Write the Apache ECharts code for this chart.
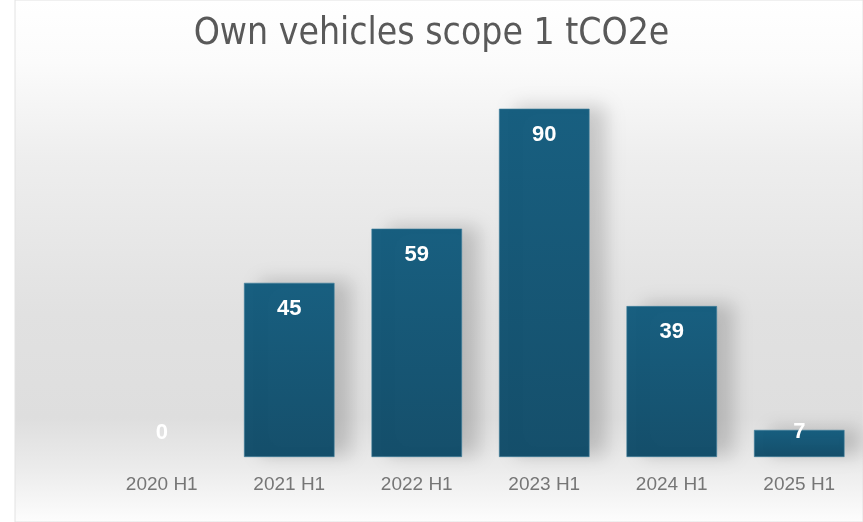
<!DOCTYPE html>
<html>
<head>
<meta charset="utf-8">
<script src="https://cdn.jsdelivr.net/npm/echarts@6/dist/echarts.min.js"></script>
<style>
  html, body { margin: 0; padding: 0; background: #fff; }
  #main { width: 863px; height: 522px; }
</style>
</head>
<body>
<div id="main"></div>
<script>
var chartDom = document.getElementById('main');
var myChart = echarts.init(chartDom);

const chartTitle = 'Own vehicles scope 1 tCO2e';
const periods = ['2020 H1', '2021 H1', '2022 H1', '2023 H1', '2024 H1', '2025 H1'];
const emissions = [0, 45, 59, 90, 39, 7];

// small bars: label sits above the baseline like in the original
function itemFor(value) {
  if (value === 0) {
    return { value: value, label: { position: 'top', distance: 13 }, itemStyle: { borderWidth: 0, shadowBlur: 0, shadowOffsetX: 0, shadowOffsetY: 0 } };
  }
  if (value < 10) {
    return { value: value, label: { position: 'top', distance: -13 } };
  }
  return { value: value, label: { position: 'insideTop', distance: 15 } };
}

const barData = emissions.map(itemFor);

var option = {
  backgroundColor: '#ffffff',
  animation: false,
  graphic: [
    {
      type: 'rect',
      z: -10,
      silent: true,
      shape: { x: 15, y: 0, width: 848, height: 522 },
      style: {
        fill: new echarts.graphic.LinearGradient(0, 0, 0, 1, [
          { offset: 0, color: '#ffffff' },
          { offset: 0.12, color: '#fbfbfb' },
          { offset: 0.3, color: '#eeeeee' },
          { offset: 0.6, color: '#e1e1e1' },
          { offset: 0.8, color: '#dedede' },
          { offset: 0.9, color: '#ececec' },
          { offset: 1, color: '#fdfdfd' },
        ]),
        stroke: '#e2e2e2',
        lineWidth: 1,
      },
    },
  ],
  title: {
    text: chartTitle,
    left: 'center',
    top: 11,
    textStyle: {
      fontFamily: 'DejaVu Sans Condensed',
      fontSize: 37,
      fontWeight: 'normal',
      color: '#595959',
    },
  },
  grid: {
    left: 98,
    right: -3,
    top: 70,
    bottom: 65,
    containLabel: false,
  },
  xAxis: {
    type: 'category',
    data: periods,
    axisLine: { show: false },
    axisTick: { show: false },
    axisLabel: {
      margin: 18,
      color: '#767676',
      fontSize: 19,
      fontFamily: 'Liberation Sans',
    },
  },
  yAxis: {
    type: 'value',
    min: 0,
    max: 100,
    show: false,
    splitLine: { show: false },
  },
  series: [
    {
      type: 'bar',
      data: barData,
      barCategoryGap: '29%',
      itemStyle: {
        color: new echarts.graphic.LinearGradient(0, 0, 0, 1, [
          { offset: 0, color: '#185f80' },
          { offset: 1, color: '#154f6b' },
        ]),
        borderColor: '#3f7f9c',
        borderWidth: 0.6,
        shadowColor: 'rgba(0,0,0,0.18)',
        shadowBlur: 18,
        shadowOffsetX: 16,
        shadowOffsetY: -2,
      },
      label: {
        show: true,
        color: '#ffffff',
        fontSize: 22,
        fontWeight: 'bold',
        fontFamily: 'Liberation Sans',
      },
    },
  ],
};

option && myChart.setOption(option);
</script>
</body>
</html>
